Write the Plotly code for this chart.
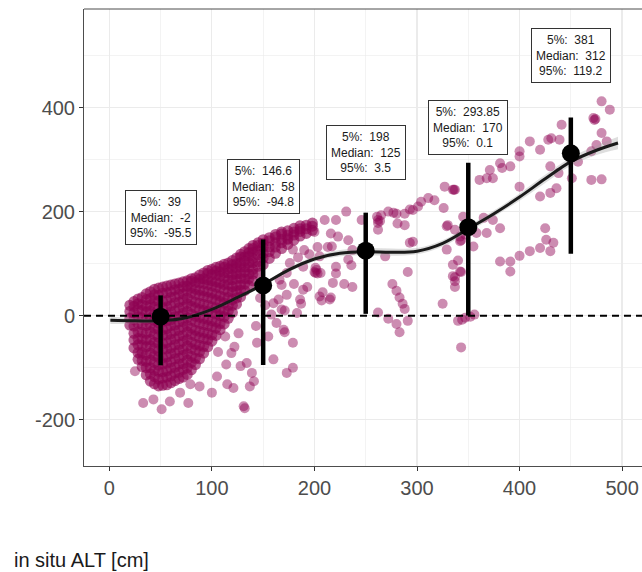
import plotly.graph_objects as go

# ---------------- data ----------------
# scattered (outer) observations: x = in situ ALT [cm], y = difference
SCATTER_X = [25, 30, 33, 43, 51, 59, 69, 79, 88, 77, 100, 105, 113, 119, 128, 134, 139, 141, 144, 137,
             131, 132, 121, 115, 160, 173, 179, 168, 160, 173, 165, 170, 179, 168, 183, 179, 114, 106, 122,
             202, 201, 186, 189, 205, 215, 166, 173, 189, 218,
             174, 210, 221, 231, 246, 262, 262, 265, 272, 280, 288, 296, 304, 311, 317, 327, 337, 301, 281,
             262, 288, 296, 200, 216, 223, 233, 237, 190, 203, 213, 203, 200, 206, 221, 221, 236, 229, 237,
             208, 216, 207, 187, 193, 180, 171, 171, 262, 272, 280, 283, 291, 276, 280, 283, 286, 288, 291,
             325, 340, 343, 343, 340, 337, 337, 330, 343, 345, 347, 352, 356, 344,
             480, 488, 472, 473, 474, 480, 441, 439, 431, 420, 410, 400, 400, 391, 381, 383, 371, 374, 368,
             361, 335, 326, 329, 337, 342, 342, 347, 355, 358, 365, 374, 381, 400, 420, 430, 436, 430, 438,
             451, 457, 470, 475, 485, 470, 480, 425, 426, 433, 430, 420, 410, 400, 391, 381, 391, 368, 335,
             335, 337, 342, 329, 428, 336, 293, 261, 277, 264, 205, 217, 233, 201, 269, 293,
             152, 158, 163, 147, 155, 184, 195, 176, 143, 126]
SCATTER_Y = [-107, -75, -168, -161, -180, -165, -148, -132, -136, -168, -148, -117, -40, -72, -97, -91, -110, -126, -52, -136,
             -174, -178, -139, -132, -84, -110, -100, 12, 24, 40, 31, -27, -52, 59, 5, 127, -94, -70, -60,
             88, 92, 31, 50, 37, 31, 69, 82, 94, 63,
             145, 184, 184, 200, 184, 184, 178, 193, 200, 196, 196, 203, 219, 226, 222, 248, 242, 210, 177,
             165, 174, 142, 161, 158, 152, 145, 126, 126, 132, 132, 81, 84, 82, 94, 81, 97, 61, 55,
             45, 35, 29, 23, 55, 61, 10, -32, 6, -6, -16, -32, -10, 61, 48, 35, 23, 13, 84,
             23, -10, -61, 84, 106, 74, 55, 174, 145, 190, -4, -2, 2, -8,
             412, 396, 380, 376, 378, 351, 367, 338, 341, 319, 335, 316, 306, 287, 293, 284, 280, 264, 264,
             261, 242, 207, 172, 165, 152, 143, 156, 133, 159, 188, 184, 168, 248, 229, 236, 245, 287, 274,
             264, 296, 316, 328, 335, 261, 262, 168, 146, 140, 124, 130, 124, 115, 104, 104, 85, 159, 98,
             76, 66, 85, 127, 338, 242, 204, 190, 198, 182, 114, 133, 108, 82, 114, 140,
             20, 2, -14, 34, -40, 112, 118, 101, -20, -34]

# dense cluster of (heavily overlapping) observations, listed by ALT column
CORE_X = [20, 24, 28, 32, 36, 40, 44, 48, 52, 56, 60, 64, 68, 72, 76, 80, 84, 88, 92, 96, 100, 104,
          108, 112, 116, 120, 124, 128, 132, 136, 140, 145, 150, 156, 162, 168, 174, 180, 186, 192, 198]
CORE_Y = [
    [-18, -5, 8, 20],
    [-62, -47, -34, -20, -7, 6, 18, 27],
    [-84, -71, -56, -44, -31, -15, -2, 12, 23, 32],
    [-98, -86, -71, -57, -45, -32, -17, -4, 10, 21, 35],
    [-114, -100, -88, -75, -60, -47, -34, -19, -7, 7, 18, 31, 42],
    [-126, -112, -100, -85, -72, -58, -46, -31, -17, -5, 9, 21, 33, 46],
    [-131, -117, -105, -90, -77, -63, -51, -36, -24, -9, 3, 17, 29, 40, 51],
    [-135, -122, -107, -95, -80, -68, -53, -41, -26, -14, 1, 13, 28, 39, 53],
    [-134, -120, -108, -93, -81, -65, -54, -38, -27, -11, 0, 15, 27, 43, 55],
    [-133, -118, -106, -91, -79, -64, -52, -37, -25, -10, 2, 17, 29, 44, 57],
    [-129, -116, -101, -89, -73, -62, -46, -35, -19, -8, 7, 19, 35, 46, 59],
    [-125, -110, -99, -83, -72, -56, -45, -29, -18, -2, 9, 25, 36, 50, 61],
    [-121, -109, -93, -82, -66, -55, -39, -28, -12, -1, 15, 26, 41, 51, 63],
    [-118, -103, -92, -76, -65, -49, -38, -22, -11, 5, 16, 31, 42, 56, 65],
    [-113, -100, -85, -73, -58, -46, -31, -19, -4, 8, 23, 34, 48, 57, 67],
    [-104, -90, -78, -63, -51, -36, -24, -9, 3, 18, 29, 44, 54, 66, 71],
    [-94, -82, -66, -55, -39, -28, -12, -1, 15, 26, 41, 51, 64, 73],
    [-83, -69, -57, -42, -30, -15, -3, 12, 24, 39, 49, 63, 70, 78],
    [-72, -59, -44, -32, -17, -5, 10, 22, 37, 48, 62, 71, 82],
    [-60, -46, -34, -19, -7, 8, 20, 35, 46, 60, 69, 81, 87],
    [-49, -37, -21, -10, 6, 17, 33, 44, 58, 67, 79, 89],
    [-38, -24, -12, 3, 15, 30, 41, 55, 65, 78, 86, 93],
    [-27, -15, 0, 12, 27, 38, 53, 63, 76, 84, 95],
    [-16, -2, 9, 24, 35, 50, 60, 73, 82, 93, 99],
    [-5, 9, 20, 35, 46, 60, 69, 82, 90, 101],
    [6, 20, 31, 46, 56, 69, 78, 90, 98, 106],
    [22, 34, 48, 58, 71, 80, 92, 100, 111],
    [36, 49, 59, 72, 81, 93, 101, 113, 118],
    [48, 61, 71, 84, 93, 105, 113, 123],
    [58, 71, 80, 93, 102, 114, 121, 129],
    [67, 80, 89, 102, 110, 122, 129, 135],
    [82, 95, 104, 117, 125, 135, 140],
    [98, 111, 120, 132, 139, 146],
    [110, 123, 132, 144, 150],
    [120, 132, 140, 151, 156],
    [129, 140, 147, 157, 161],
    [137, 148, 155, 163],
    [145, 155, 161, 168],
    [153, 162, 167, 173],
    [158, 167, 174],
    [164, 172, 178],
]

# loess-type smooth of the relationship with its standard error
SMOOTH_X = [1, 25, 50, 75, 100, 125, 150, 175, 200, 225, 250, 275, 300, 325, 350, 375, 400, 425, 450, 475, 496]
SMOOTH_Y = [-9, -10, -10, -4, 12, 35, 60, 88, 109, 120, 123, 122, 124, 139, 167, 196, 228, 263, 296, 318, 332]
SMOOTH_SE = [7, 5, 3, 3, 3, 3, 3, 4, 5, 6, 7, 7, 6, 6, 6, 6, 7, 8, 8, 9, 12]

# binned summaries
BIN_MID = [50, 150, 250, 350, 450]
BIN_MEDIAN = [-2, 58, 125, 170, 312]
BIN_P5 = [39, 146.6, 198, 293.85, 381]
BIN_P95 = [-95.5, -94.8, 3.5, 0.1, 119.2]
LABEL_Y = [188, 249, 314, 361, 501]

X_TICKS = [0, 100, 200, 300, 400, 500]
Y_TICKS = [-200, 0, 200, 400]
Y_TICK_TEXT = ["-200", "0", "200", "400"]
REF_LINE_Y = 0

# ---------------- figure ----------------
core_x, core_y = [], []
for cx, ys in zip(CORE_X, CORE_Y):
    for yv in ys:
        core_x.append(cx)
        core_y.append(yv)

fig = go.Figure()

fig.add_trace(go.Scatter(
    x=SCATTER_X, y=SCATTER_Y, mode="markers",
    marker=dict(color="#8E0152", size=10, opacity=0.45, line=dict(width=0)),
    hoverinfo="skip", showlegend=False))
fig.add_trace(go.Scatter(
    x=core_x, y=core_y, mode="markers",
    marker=dict(color="#8E0152", size=11, opacity=0.62, line=dict(width=0)),
    hoverinfo="skip", showlegend=False))

lower = [m - s for m, s in zip(SMOOTH_Y, SMOOTH_SE)]
upper = [m + s for m, s in zip(SMOOTH_Y, SMOOTH_SE)]
fig.add_trace(go.Scatter(x=SMOOTH_X, y=lower, mode="lines", line=dict(width=0, shape="spline"),
                         showlegend=False, hoverinfo="skip"))
fig.add_trace(go.Scatter(x=SMOOTH_X, y=upper, mode="lines", line=dict(width=0, shape="spline"),
                         fill="tonexty", fillcolor="rgba(160,160,160,0.35)",
                         showlegend=False, hoverinfo="skip"))
fig.add_trace(go.Scatter(x=SMOOTH_X, y=SMOOTH_Y, mode="lines",
                         line=dict(color="#1a1a1a", width=3, shape="spline"),
                         showlegend=False, hoverinfo="skip"))

err_plus = [p5 - m for p5, m in zip(BIN_P5, BIN_MEDIAN)]
err_minus = [m - p95 for p95, m in zip(BIN_P95, BIN_MEDIAN)]
fig.add_trace(go.Scatter(
    x=BIN_MID, y=BIN_MEDIAN, mode="markers",
    marker=dict(color="black", size=18),
    error_y=dict(type="data", symmetric=False, array=err_plus, arrayminus=err_minus,
                 color="black", thickness=4.5, width=0),
    showlegend=False, hoverinfo="skip"))

def fmt(v):
    return ("%g" % v)

annotations = []
for xm, ly, p5, med, p95 in zip(BIN_MID, LABEL_Y, BIN_P5, BIN_MEDIAN, BIN_P95):
    annotations.append(dict(
        x=xm, y=ly, xref="x", yref="y", showarrow=False,
        text=f"5%:\u00a0 {fmt(p5)}<br>Median:\u00a0 {fmt(med)}<br>95%:\u00a0 {fmt(p95)}",
        font=dict(family="Liberation Sans, Arial", size=12, color="#1a1a1a"),
        align="center", bgcolor="white", bordercolor="#333333", borderwidth=1, borderpad=4))

annotations.append(dict(
    x=-0.129, y=-0.206, xref="paper", yref="paper", xanchor="left", yanchor="middle",
    showarrow=False, text="in situ ALT [cm]",
    font=dict(family="Liberation Sans, Arial", size=20, color="#1a1a1a")))

fig.update_layout(
    width=642, height=572,
    margin=dict(l=84, r=0, t=9, b=106),
    paper_bgcolor="white", plot_bgcolor="white",
    font=dict(family="Liberation Sans, Arial"),
    annotations=annotations,
    shapes=[
        dict(type="line", xref="paper", yref="y", x0=0, x1=1, y0=REF_LINE_Y, y1=REF_LINE_Y,
             line=dict(color="black", width=2, dash="7px,5px"), layer="above"),
        dict(type="line", xref="paper", yref="paper", x0=0, x1=1, y0=1, y1=1,
             line=dict(color="#4d4d4d", width=1), layer="above"),
    ],
    xaxis=dict(range=[-24.7, 519.4], tickvals=X_TICKS, ticks="outside", ticklen=4,
               tickcolor="#333333", tickwidth=1,
               tickfont=dict(size=20, color="#4d4d4d"),
               showgrid=True, gridcolor="#ebebeb", gridwidth=1.2,
               minor=dict(dtick=50, tick0=0, showgrid=True, gridcolor="#ebebeb", gridwidth=0.6),
               zeroline=False, showline=True, linecolor="#4d4d4d", linewidth=1),
    yaxis=dict(range=[-289, 589.5], tickvals=Y_TICKS, ticktext=Y_TICK_TEXT, ticks="outside", ticklen=4,
               tickcolor="#333333", tickwidth=1,
               tickfont=dict(size=20, color="#4d4d4d"),
               showgrid=True, gridcolor="#ebebeb", gridwidth=1.2,
               minor=dict(dtick=100, tick0=-300, showgrid=True, gridcolor="#ebebeb", gridwidth=0.6),
               zeroline=False, showline=True, linecolor="#4d4d4d", linewidth=1),
)

# remove the default page margin so the 642x572 figure fills the window exactly
fig.write_html(
    "out.html",
    config={"displayModeBar": False, "staticPlot": True},
    post_script="document.body.style.margin='0';document.documentElement.style.overflow='hidden';",
)
